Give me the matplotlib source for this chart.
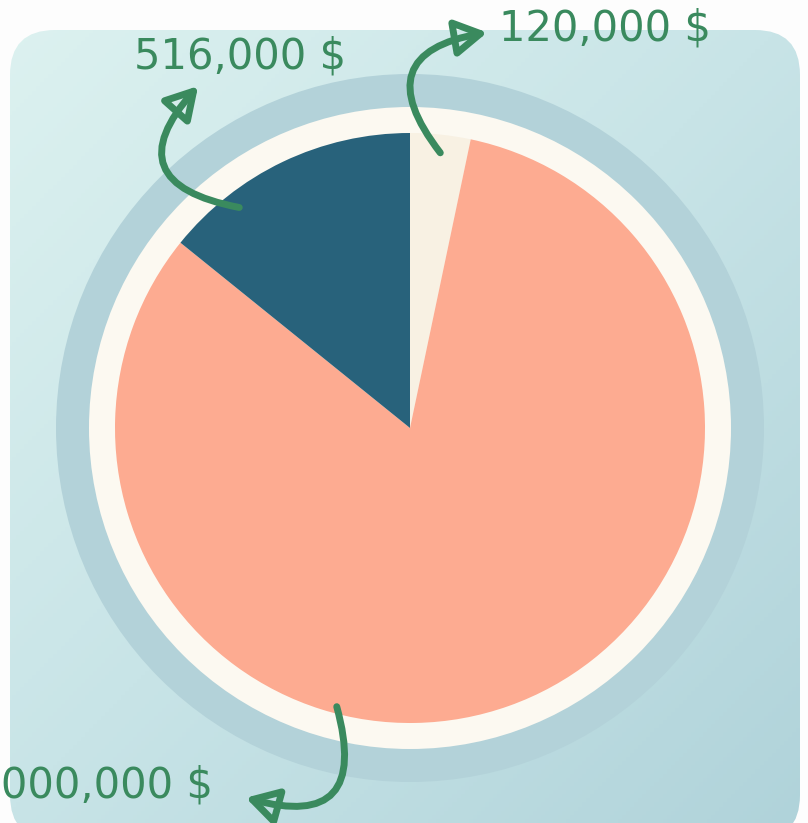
import numpy as np
import matplotlib
matplotlib.use('Agg')
from matplotlib import pyplot as plt
from matplotlib.patches import FancyBboxPatch, Circle, FancyArrowPatch
from matplotlib.colors import LinearSegmentedColormap

# data
labels = ['120,000 $', '3,000,000 $', '516,000 $']
values = [120000, 3000000, 516000]
colors = ['#f8f1e3', '#fdab91', '#28627b']

W, H = 808, 823
fig = plt.figure(figsize=(W/100, H/100), dpi=100)
fig.patch.set_facecolor('#fdfdfd')
ax = fig.add_axes([0, 0, 1, 1])

def Y(p):
	return H - p

# background panel with gradient
panel = FancyBboxPatch((10 + 45, Y(840) + 45), 790 - 90, 810 - 90,
	boxstyle='round,pad=45', facecolor='none', edgecolor='none')
ax.add_patch(panel)
cmap = LinearSegmentedColormap.from_list('bg', ['#ddf2f0', '#c8e4e7', '#b0d3da'])
gx, gy = np.meshgrid(np.linspace(0, 1, 200), np.linspace(0, 1, 200))
grad = (gx + gy) / 2
im = ax.imshow(grad, cmap=cmap, extent=[0, W, 0, H], origin='upper', zorder=0)
im.set_clip_path(panel)

cx, cy = 410, Y(428)
ax.add_patch(Circle((cx, cy), 354, facecolor='#b3d2d9', edgecolor='none', zorder=1))
ax.add_patch(Circle((cx, cy), 321, facecolor='#fcf9f1', edgecolor='none', zorder=2))

wedges, _ = ax.pie(values, colors=colors, startangle=90, counterclock=False,
	center=(cx, cy), radius=295, frame=True,
	wedgeprops=dict(linewidth=0))
for w in wedges:
	w.set_zorder(3)
ax.set_xlim(0, W)
ax.set_ylim(0, H)
ax.set_aspect('equal')
ax.axis('off')

green = '#3a8a5e'
fs = 30
ax.text(240, Y(56), labels[2], color=green, fontsize=fs, ha='center', va='center', zorder=5)
ax.text(605, Y(28), labels[0], color=green, fontsize=fs, ha='center', va='center', zorder=5)
ax.text(213, Y(786), labels[1], color=green, fontsize=fs, ha='right', va='center', zorder=5)

arrows = [
	((242, 208), (200, 84), -0.9),
	((442, 155), (490, 32), -0.85),
	((336, 704), (243, 797), -0.9),
]
for (x0, y0), (x1, y1), rad in arrows:
	a = FancyArrowPatch((x0, Y(y0)), (x1, Y(y1)),
		connectionstyle='arc3,rad=%s' % rad,
		arrowstyle='-|>,head_length=0.38,head_width=0.22',
		mutation_scale=50, linewidth=5, edgecolor=green, facecolor='none',
		capstyle='round', joinstyle='round', zorder=6)
	ax.add_patch(a)

fig.savefig('out.png', dpi=100, facecolor=fig.get_facecolor())
